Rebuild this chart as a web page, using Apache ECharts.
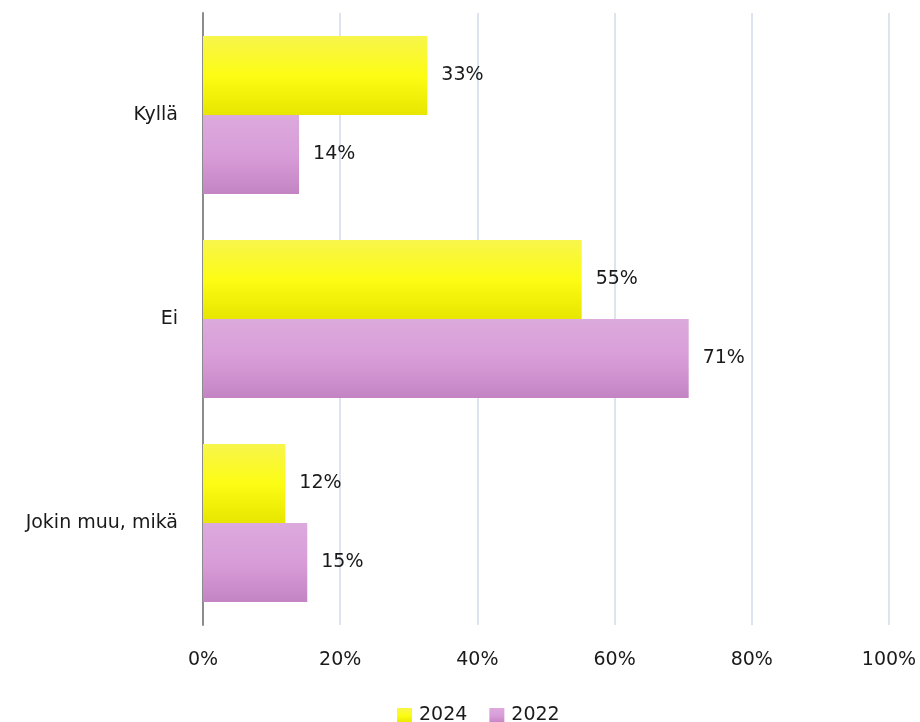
<!DOCTYPE html>
<html>
<head>
<meta charset="utf-8">
<script src="https://cdn.jsdelivr.net/npm/echarts@6/dist/echarts.min.js"></script>
<style>
  html, body { margin: 0; padding: 0; background: #fff; }
  #chart { width: 920px; height: 722px; }
</style>
</head>
<body>
<div id="chart"></div>
<script>
const categories = ['Kyllä', 'Ei', 'Jokin muu, mikä'];
const values2024 = [32.7, 55.2, 12.0];
const values2022 = [14.0, 70.8, 15.2];
const ticks = [0, 20, 40, 60, 80, 100];

const font = '"DejaVu Sans", sans-serif';

const yellow = new echarts.graphic.LinearGradient(0, 0, 0, 1, [
  { offset: 0, color: '#f8f54c' },
  { offset: 0.5, color: '#fcfc14' },
  { offset: 1, color: '#e6e600' }
]);
const purple = new echarts.graphic.LinearGradient(0, 0, 0, 1, [
  { offset: 0, color: '#dcaadc' },
  { offset: 0.5, color: '#d89dd8' },
  { offset: 1, color: '#c484c4' }
]);

const label = {
  show: true,
  position: 'right',
  distance: 14,
  fontSize: 19,
  fontFamily: font,
  color: '#1a1a1a',
  formatter: p => Math.round(p.value) + '%'
};

const chart = echarts.init(document.getElementById('chart'));
chart.setOption({
  animation: false,
  textStyle: { fontFamily: font },
  legend: {
    left: 392,
    top: 701,
    itemWidth: 15,
    itemHeight: 15,
    itemGap: 22,
    icon: 'rect',
    textStyle: { fontSize: 19, color: '#1a1a1a', fontFamily: font, padding: [0, 0, 0, 2] },
    data: ['2024', '2022']
  },
  grid: {
    left: 203,
    right: 31,
    top: 13,
    bottom: 97
  },
  xAxis: {
    type: 'value',
    min: 0,
    max: 100,
    interval: 20,
    axisLine: { show: false },
    axisTick: { show: false },
    axisLabel: {
      margin: 26,
      fontSize: 19,
      color: '#1a1a1a',
      fontFamily: font,
      formatter: v => ticks.includes(v) ? v + '%' : ''
    },
    splitLine: { lineStyle: { color: '#dde4ee', width: 2 } }
  },
  yAxis: {
    type: 'category',
    inverse: true,
    data: categories,
    axisLine: { lineStyle: { color: '#8c8c8c', width: 2 } },
    axisTick: { show: false },
    axisLabel: {
      margin: 25,
      fontSize: 19,
      color: '#1a1a1a',
      fontFamily: font
    }
  },
  series: [
    {
      name: '2024',
      type: 'bar',
      data: values2024,
      barGap: '0%',
      barCategoryGap: '22.5%',
      itemStyle: { color: yellow },
      label: label
    },
    {
      name: '2022',
      type: 'bar',
      data: values2022,
      barGap: '0%',
      barCategoryGap: '22.5%',
      itemStyle: { color: purple },
      label: label
    }
  ]
});
</script>
</body>
</html>
